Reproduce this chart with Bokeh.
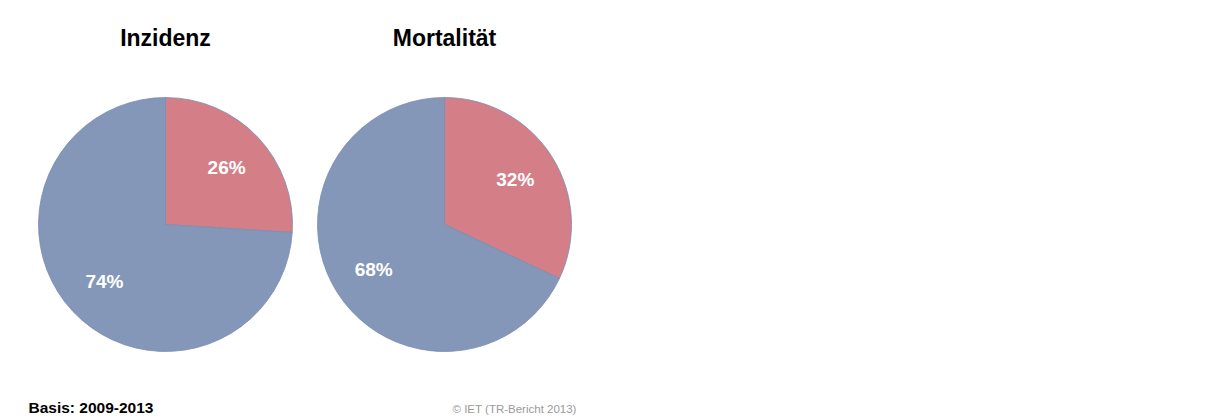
import math
from bokeh.plotting import figure
from bokeh.models import Range1d, ColumnDataSource, Label
from bokeh.core.properties import value
from bokeh.embed import file_html
from bokeh.resources import INLINE

titles = ["Inzidenz", "Mortalität"]
categories = ["rot", "blau"]
inzidenz = [26, 74]
mortalitaet = [32, 68]
colors = ["#D47F88", "#8497B9"]

W, H = 1198, 419
p = figure(width=W, height=H, output_backend="svg", toolbar_location=None,
           x_range=Range1d(0, W), y_range=Range1d(0, H), min_border=0)
p.axis.visible = False
p.grid.visible = False
p.outline_line_color = None
p.background_fill_color = "white"
p.border_fill_color = "white"

def sy(s):
    return H - s

R = 127
centers = [(165, sy(224)), (444, sy(224))]

for title, vals, (cx, cy) in zip(titles, [inzidenz, mortalitaet], centers):
    total = sum(vals)
    starts, ends, lx, ly, texts = [], [], [], [], []
    a = math.pi / 2
    for v in vals:
        sweep = v / total * 2 * math.pi
        starts.append(a - sweep)
        ends.append(a)
        mid = a - sweep / 2
        lx.append(cx + 0.66 * R * math.cos(mid))
        ly.append(cy + 0.66 * R * math.sin(mid))
        texts.append(f"{v}%")
        a -= sweep
    src = ColumnDataSource(dict(start=starts, end=ends, color=colors, cat=categories,
                                lx=lx, ly=ly, t=texts))
    p.wedge(x=cx, y=cy, radius=R, start_angle="start", end_angle="end",
            fill_color="color", line_color="#7a8db3", line_width=0.8, source=src)
    p.text(x="lx", y="ly", text="t", source=src, text_color="white",
           text_font=value("Liberation Sans"), text_font_style="bold",
           text_font_size="19px", text_align="center", text_baseline="middle")
    p.add_layout(Label(x=cx, y=sy(37), text=title, text_align="center",
                       text_baseline="middle", text_font="Liberation Sans",
                       text_font_style="bold", text_font_size="23px",
                       text_color="black"))

p.add_layout(Label(x=28, y=sy(407), text="Basis: 2009-2013", text_align="left",
                   text_baseline="middle", text_font="Liberation Sans",
                   text_font_style="bold", text_font_size="15.5px", text_color="black"))
p.add_layout(Label(x=452, y=sy(408), text="© IET (TR-Bericht 2013)", text_align="left",
                   text_baseline="middle", text_font="Liberation Sans",
                   text_font_size="11.5px", text_color="#9a9a9a"))

open("out.html", "w").write(file_html(p, INLINE))
